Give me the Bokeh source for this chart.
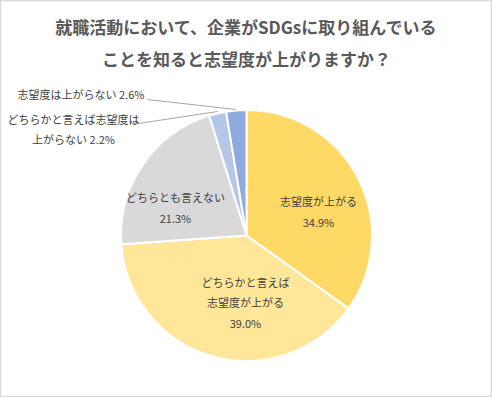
import math
from bokeh.plotting import figure
from bokeh.models import Range1d, ColumnDataSource
from bokeh.core.properties import value
from bokeh.embed import file_html
from bokeh.resources import INLINE

# ---- data ----
categories = ["志望度が上がる", "どちらかと言えば志望度が上がる", "どちらとも言えない",
              "どちらかと言えば志望度は上がらない", "志望度は上がらない"]
values = [34.9, 39.0, 21.3, 2.2, 2.6]
colors = ["#FFD966", "#FFE699", "#D9D9D9", "#B4C7E7", "#8FAADC"]
title_lines = ["就職活動において、企業がSDGsに取り組んでいる", "ことを知ると志望度が上がりますか？"]

W, H = 492, 397
FONT = "Noto Sans CJK JP"

def Y(y):  # pixel row -> data y
    return H - y

p = figure(width=W, height=H, output_backend="svg", toolbar_location=None,
           x_range=Range1d(0, W), y_range=Range1d(0, H), min_border=0)
p.axis.visible = False
p.grid.visible = False
p.outline_line_color = "#D9D9D9"
p.outline_line_width = 1.5
p.background_fill_color = "white"
p.border_fill_color = "white"

# pie
cx, cy, r = 246, 235, 125.5
total = sum(values)
starts, ends = [], []
cum = 0.0
for v in values:
    a0 = math.pi / 2 - 2 * math.pi * cum / total
    cum += v
    a1 = math.pi / 2 - 2 * math.pi * cum / total
    starts.append(a1)
    ends.append(a0)
src = ColumnDataSource(dict(start=starts, end=ends, color=colors))
p.wedge(x=cx, y=Y(cy), radius=r, start_angle="start", end_angle="end",
        fill_color="color", line_color="white", line_width=2, source=src)

# title
for i, t in enumerate(title_lines):
    p.text(x=[246], y=[Y(26 + 32 * i)], text=[t], text_font=value(FONT),
           text_font_size="17px", text_font_style="bold", text_color="#595959",
           text_align="center", text_baseline="middle")

def pct(v):
    return f"{v:.1f}%"

# inside labels
inside = [
    (318, [200, 221], ["志望度が上がる", pct(values[0])]),
    (245, [281, 301, 322], ["どちらかと言えば", "志望度が上がる", pct(values[1])]),
    (175, [196, 217], ["どちらとも言えない", pct(values[2])]),
]
for x, ys, lines in inside:
    p.text(x=[x] * len(ys), y=[Y(y) for y in ys], text=lines, text_font=value(FONT),
           text_font_size="11px", text_color="#404040",
           text_align="center", text_baseline="middle")

# outside labels
p.text(x=[17], y=[Y(93)], text=[f"志望度は上がらない {pct(values[4])}"], text_font=value(FONT),
       text_font_size="11px", text_color="#404040", text_align="left", text_baseline="middle")
p.text(x=[73, 73], y=[Y(118), Y(138)], text=["どちらかと言えば志望度は", f"上がらない {pct(values[3])}"],
       text_font=value(FONT), text_font_size="11px", text_color="#404040",
       text_align="center", text_baseline="middle")

# leader lines
p.line(x=[147, 235], y=[Y(99), Y(109)], line_color="#A6A6A6", line_width=1)
p.line(x=[133, 138, 217], y=[Y(123), Y(123), Y(111)], line_color="#A6A6A6", line_width=1)

html = file_html(p, INLINE)
html = html.replace("</head>", "<style>html,body{margin:0;padding:0;}</style></head>", 1)
open("out.html", "w").write(html)
